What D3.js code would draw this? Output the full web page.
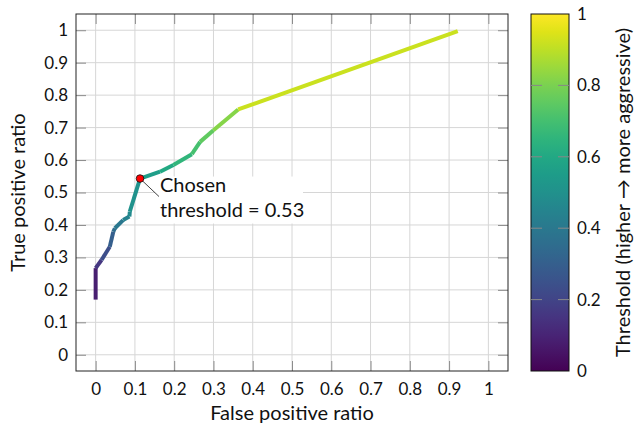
<!DOCTYPE html>
<html>
<head>
<meta charset="utf-8">
<script src="https://cdn.jsdelivr.net/npm/d3@7"></script>
<style>
  body { margin: 0; background: #fff; }
  svg text { font-family: Lato, "Open Sans", sans-serif; fill: #111; }
</style>
</head>
<body>
<svg id="chart" width="636" height="424"></svg>
<script>
// ROC curve points
var fpr = [0, 0, 0.015, 0.036, 0.045, 0.049, 0.07, 0.086, 0.087, 0.113, 0.164, 0.198, 0.245, 0.266, 0.3, 0.363, 0.922];
var tpr = [0.17, 0.267, 0.292, 0.333, 0.379, 0.39, 0.415, 0.426, 0.441, 0.543, 0.564, 0.585, 0.618, 0.656, 0.692, 0.756, 0.997];
var thresholds = [0.05, 0.12, 0.2, 0.27, 0.33, 0.37, 0.42, 0.46, 0.48, 0.53, 0.58, 0.63, 0.68, 0.73, 0.78, 0.86, 0.98];

var chosen = { fpr: 0.113, tpr: 0.543, threshold: 0.53 };

var xTicks = [0, 0.1, 0.2, 0.3, 0.4, 0.5, 0.6, 0.7, 0.8, 0.9, 1];
var yTicks = [0, 0.1, 0.2, 0.3, 0.4, 0.5, 0.6, 0.7, 0.8, 0.9, 1];
var cbTicks = [0, 0.2, 0.4, 0.6, 0.8, 1];

var svg = d3.select('#chart');
var plot = { left: 76, right: 508, top: 14, bottom: 371 };
var cb = { left: 531, right: 569, top: 14, bottom: 371 };
var tickLen = 10;

var x = d3.scaleLinear().domain([-0.05, 1.05]).range([plot.left, plot.right]);
var y = d3.scaleLinear().domain([-0.05, 1.05]).range([plot.bottom, plot.top]);
var fmt = function (d) { return d === 0 || d === 1 ? String(d) : d3.format('.1f')(d); };

// grid
var grid = svg.append('g');
grid.selectAll('.gx').data(xTicks).enter().append('line')
	.attr('x1', function (d) { return x(d); }).attr('x2', function (d) { return x(d); })
	.attr('y1', plot.top).attr('y2', plot.bottom)
	.style('stroke', '#d6d6d6').style('stroke-width', 1);
grid.selectAll('.gy').data(yTicks).enter().append('line')
	.attr('y1', function (d) { return y(d); }).attr('y2', function (d) { return y(d); })
	.attr('x1', plot.left).attr('x2', plot.right)
	.style('stroke', '#d6d6d6').style('stroke-width', 1);

// axes, ticks drawn inward on all four sides
var axB = svg.append('g').attr('transform', 'translate(0,' + plot.bottom + ')')
	.call(d3.axisBottom(x).tickValues(xTicks).tickFormat(fmt).tickSizeInner(-tickLen).tickSizeOuter(0).tickPadding(12));
var axT = svg.append('g').attr('transform', 'translate(0,' + plot.top + ')')
	.call(d3.axisTop(x).tickValues(xTicks).tickFormat('').tickSizeInner(-tickLen).tickSizeOuter(0));
var axL = svg.append('g').attr('transform', 'translate(' + plot.left + ',0)')
	.call(d3.axisLeft(y).tickValues(yTicks).tickFormat(fmt).tickSizeInner(-tickLen).tickSizeOuter(0).tickPadding(8));
var axR = svg.append('g').attr('transform', 'translate(' + plot.right + ',0)')
	.call(d3.axisRight(y).tickValues(yTicks).tickFormat('').tickSizeInner(-tickLen).tickSizeOuter(0));
[axB, axT, axL, axR].forEach(function (a) {
	a.select('.domain').remove();
	a.selectAll('.tick line').style('stroke', '#8c8c8c');
	a.selectAll('text').style('font-family', 'Lato, sans-serif').style('font-size', '17px').style('fill', '#111');
});

// curve as coloured segments
var color = d3.interpolateViridis;
var segs = d3.range(fpr.length - 1);
svg.append('g').selectAll('line').data(segs).enter().append('line')
	.attr('x1', function (i) { return x(fpr[i]); })
	.attr('y1', function (i) { return y(tpr[i]); })
	.attr('x2', function (i) { return x(fpr[i + 1]); })
	.attr('y2', function (i) { return y(tpr[i + 1]); })
	.style('stroke', function (i) { return color((thresholds[i] + thresholds[i + 1]) / 2); })
	.style('stroke-width', 4)
	.style('stroke-linecap', 'butt');

// frame
svg.append('rect')
	.attr('x', plot.left).attr('y', plot.top)
	.attr('width', plot.right - plot.left).attr('height', plot.bottom - plot.top)
	.style('fill', 'none').style('stroke', '#222').style('stroke-width', 1);

// annotation
var px = x(chosen.fpr), py = y(chosen.tpr);
var note = svg.append('g');
note.append('rect')
	.attr('x', px + 15).attr('y', py - 2)
	.attr('width', 148).attr('height', 47)
	.style('fill', '#fff');
note.append('line')
	.attr('x1', px).attr('y1', py).attr('x2', px + 19).attr('y2', py + 18)
	.style('stroke', '#111').style('stroke-width', 0.8);
note.append('text').attr('x', px + 20).attr('y', py + 13).style('font-size', '20px').text('Chosen');
note.append('text').attr('x', px + 20).attr('y', py + 38).style('font-size', '20px').text('threshold');
note.append('text').attr('x', px + 108).attr('y', py + 38).style('font-size', '20px').text('= ' + chosen.threshold);
svg.append('circle')
	.attr('cx', px).attr('cy', py).attr('r', 3.8)
	.style('fill', '#ff0000').style('stroke', '#111').style('stroke-width', 0.8);

// axis labels
svg.append('text')
	.attr('x', (plot.left + plot.right) / 2).attr('y', 420)
	.attr('text-anchor', 'middle').style('font-size', '20px')
	.text('False positive ratio');
svg.append('text')
	.attr('transform', 'translate(25,' + (plot.top + plot.bottom) / 2 + ') rotate(-90)')
	.attr('text-anchor', 'middle').style('font-size', '20px')
	.text('True positive ratio');

// colorbar
var defs = svg.append('defs');
var grad = defs.append('linearGradient').attr('id', 'vir')
	.attr('x1', 0).attr('y1', 1).attr('x2', 0).attr('y2', 0);
grad.selectAll('stop').data(d3.range(0, 1.0001, 0.05)).enter().append('stop')
	.attr('offset', function (d) { return d; })
	.attr('stop-color', function (d) { return color(d); });
svg.append('rect')
	.attr('x', cb.left).attr('y', cb.top)
	.attr('width', cb.right - cb.left).attr('height', cb.bottom - cb.top)
	.style('fill', 'url(#vir)').style('stroke', '#111').style('stroke-width', 1);
var cy = d3.scaleLinear().domain([0, 1]).range([cb.bottom, cb.top]);
var inner = cbTicks.filter(function (d) { return d > 0 && d < 1; });
svg.append('g').selectAll('line').data(inner).enter().append('line')
	.attr('x1', cb.left).attr('x2', cb.left + 11)
	.attr('y1', function (d) { return cy(d); }).attr('y2', function (d) { return cy(d); })
	.style('stroke', '#888').style('stroke-width', 1);
svg.append('g').selectAll('line').data(inner).enter().append('line')
	.attr('x1', cb.right - 11).attr('x2', cb.right)
	.attr('y1', function (d) { return cy(d); }).attr('y2', function (d) { return cy(d); })
	.style('stroke', '#888').style('stroke-width', 1);
svg.append('g').selectAll('text').data(cbTicks).enter().append('text')
	.attr('x', cb.right + 8).attr('y', function (d) { return cy(d); })
	.attr('dy', '0.35em').style('font-size', '17px')
	.text(fmt);
svg.append('text')
	.attr('transform', 'translate(630,' + (cb.top + cb.bottom) / 2 + ') rotate(-90)')
	.attr('text-anchor', 'middle').style('font-size', '20px')
	.text('Threshold (higher \u2192 more aggressive)');
</script>
</body>
</html>
